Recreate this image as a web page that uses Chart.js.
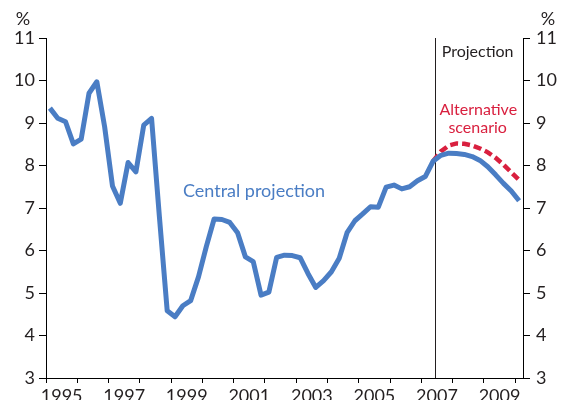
<!DOCTYPE html>
<html>
<head>
<meta charset="utf-8">
<script src="https://cdn.jsdelivr.net/npm/chart.js@4.4.1/dist/chart.umd.min.js"></script>
<style>
  body { margin: 0; background: #fff; }
  #wrap { width: 564px; height: 400px; }
</style>
</head>
<body>
<div id="wrap"><canvas id="chart"></canvas></div>
<script>
// quarterly values, first point is 1995 Q1
const firstYear = 1995;
const history = [
  9.35, 9.11, 9.03, 8.51,
  8.62, 9.70, 9.97, 8.91,
  7.52, 7.11, 8.07, 7.85,
  8.95, 9.11, 6.80, 4.58,
  4.44, 4.70, 4.82, 5.38,
  6.09, 6.74, 6.73, 6.66,
  6.42, 5.85, 5.74, 4.95,
  5.02, 5.84, 5.89, 5.88,
  5.83, 5.46, 5.13, 5.29,
  5.50, 5.82, 6.42, 6.70,
  6.86, 7.03, 7.02, 7.49,
  7.54, 7.45, 7.50, 7.64,
  7.74, 8.10
];
// both projections start at the last history point (2007 Q2)
const centralProjection = [8.10, 8.24, 8.29, 8.28, 8.26, 8.21, 8.12, 7.97, 7.78, 7.58, 7.40, 7.17];
const altScenario = [8.10, 8.33, 8.47, 8.52, 8.51, 8.47, 8.40, 8.31, 8.18, 8.02, 7.84, 7.66];
const projectionStart = 2007.45;
const yearLabels = ['1995', '1997', '1999', '2001', '2003', '2005', '2007', '2009'];
const yTicks = [3, 4, 5, 6, 7, 8, 9, 10, 11];

const BLUE = '#4a7dc4';
const RED = '#d9203f';
const INK = '#231f20';

Chart.defaults.font.family = 'Lato';
Chart.defaults.font.size = 18;
Chart.defaults.color = INK;

function quarterTime(i) {
  return firstYear + (i + 0.5) / 4;
}

const central = history.concat(centralProjection.slice(1))
  .map((v, i) => ({ x: quarterTime(i), y: v }));
const alternative = altScenario
  .map((v, i) => ({ x: quarterTime(history.length - 1 + i), y: v }));

const notes = {
  id: 'notes',
  beforeDatasetsDraw(chart) {
    const { ctx, chartArea } = chart;
    const x = chart.scales.x.getPixelForValue(projectionStart);
    ctx.save();
    ctx.strokeStyle = INK;
    ctx.lineWidth = 1;
    ctx.beginPath();
    ctx.moveTo(Math.round(x) + 0.5, chartArea.top);
    ctx.lineTo(Math.round(x) + 0.5, chartArea.bottom);
    ctx.stroke();
    ctx.restore();
  },
  afterDraw(chart) {
    const { ctx } = chart;
    const xs = chart.scales.x, ys = chart.scales.y;
    const text = (str, x, y, color, size) => {
      ctx.fillStyle = color;
      ctx.font = size + 'px Lato';
      ctx.textAlign = 'center';
      ctx.textBaseline = 'alphabetic';
      ctx.fillText(str, xs.getPixelForValue(x), ys.getPixelForValue(y));
    };
    ctx.save();
    text('Central projection', 2001.65, 7.25, BLUE, 18);
    text('Projection', 2008.8, 10.55, INK, 16);
    text('Alternative', 2008.82, 9.19, RED, 16);
    text('scenario', 2008.8, 8.76, RED, 16);
    // % unit labels above both axes
    ctx.font = '18px Lato';
    ctx.fillStyle = INK;
    ctx.textBaseline = 'middle';
    ctx.fillText('%', 23, 19);
    ctx.fillText('%', 548, 19);
    ctx.restore();
  }
};

const yAxis = (position, width, padding) => ({
  type: 'linear',
  position,
  min: 3,
  max: 11,
  afterBuildTicks: s => { s.ticks = yTicks.map(v => ({ value: v })); },
  afterFit: s => { s.width = width; },
  ticks: { padding, color: INK },
  grid: { drawOnChartArea: false, tickLength: 7, tickColor: '#000' },
  border: { color: '#000', width: 1 }
});

new Chart(document.getElementById('chart'), {
  type: 'line',
  data: {
    datasets: [{
      label: 'Central projection',
      data: central,
      borderColor: BLUE,
      borderWidth: 5,
      pointRadius: 0,
      tension: 0,
      borderJoinStyle: 'round'
    }, {
      label: 'Alternative scenario',
      data: alternative,
      borderColor: RED,
      borderWidth: 4.5,
      borderDash: [8, 4],
      pointRadius: 0,
      tension: 0
    }]
  },
  options: {
    responsive: true,
    maintainAspectRatio: false,
    animation: false,
    layout: { padding: { top: 38, right: 0, bottom: 0, left: 0 } },
    plugins: { legend: { display: false }, tooltip: { enabled: false } },
    scales: {
      x: {
        type: 'linear',
        min: 1995,
        max: 2010.25,
        afterBuildTicks: s => {
          const ticks = [];
          for (let y = 1995; y <= 2010; y++) ticks.push({ value: y });
          yearLabels.forEach(l => ticks.push({ value: +l + 0.5 }));
          s.ticks = ticks.sort((a, b) => a.value - b.value);
        },
        afterFit: s => { s.height = 22; },
        ticks: {
          autoSkip: false,
          maxRotation: 0,
          padding: 2,
          color: INK,
          callback: v => yearLabels.includes(String(v - 0.5)) ? String(v - 0.5) : ''
        },
        grid: {
          drawOnChartArea: false,
          tickLength: 5,
          tickColor: c => Number.isInteger(c.tick.value) ? '#000' : 'rgba(0,0,0,0)'
        },
        border: { color: '#000', width: 1 }
      },
      y: yAxis('left', 46, 4),
      y1: yAxis('right', 41, 6)
    }
  },
  plugins: [notes]
});
</script>
</body>
</html>
